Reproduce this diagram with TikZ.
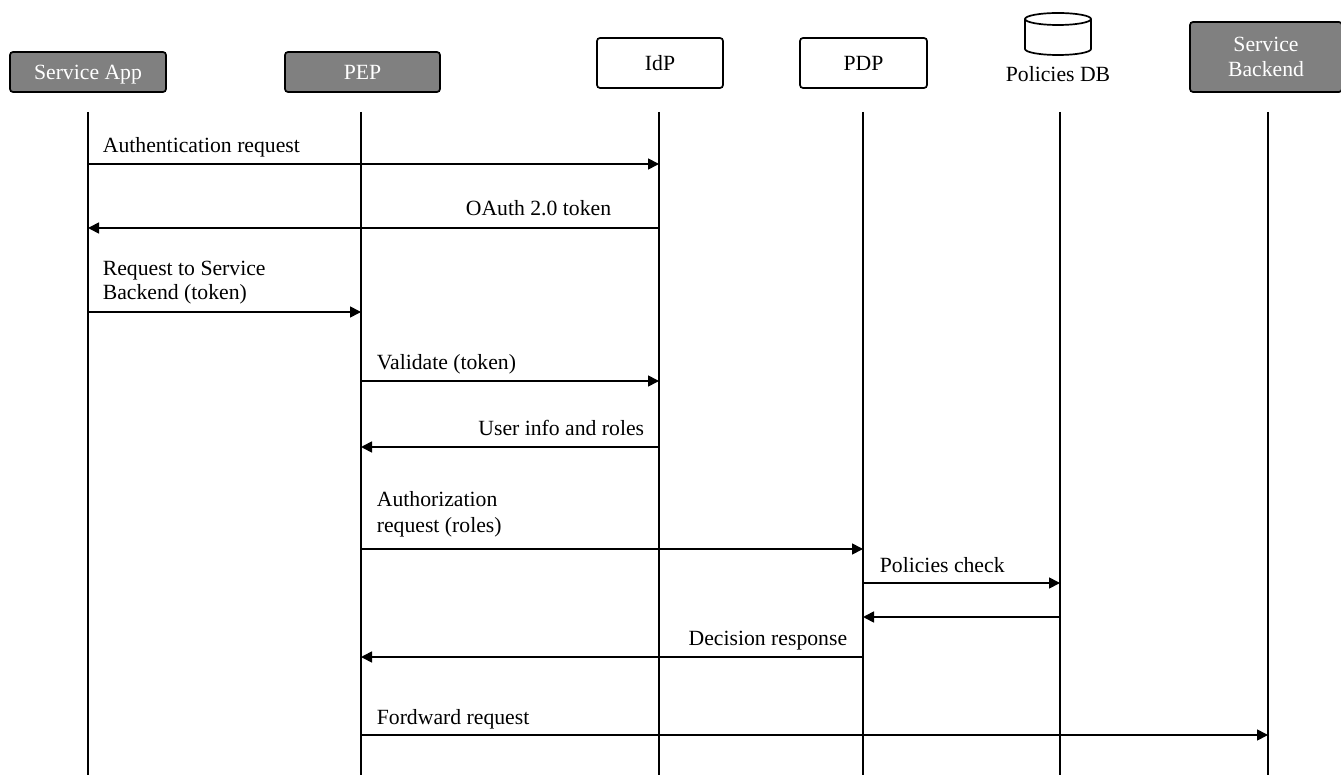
\documentclass[tikz,border=0pt]{standalone}
\usepackage{fontspec}
\setmainfont{Liberation Serif}
\usetikzlibrary{arrows.meta}
\definecolor{boxgrey}{HTML}{808080}
\begin{document}
\begin{tikzpicture}[x=1pt,y=-1pt,
  every node/.style={font=\fontsize{21.7}{24}\selectfont, inner sep=0pt},
  actor/.style={draw=black, line width=1.7pt, rounded corners=3pt, fill=boxgrey,
    text=white, align=center},
  plainbox/.style={draw=black, line width=1.7pt, rounded corners=3pt, fill=white},
  lifeline/.style={line width=1.7pt},
  msg/.style={line width=1.7pt, -{Triangle[length=11pt,width=11pt]}},
  lbl/.style={anchor=base west, align=left},
  rlbl/.style={anchor=base east, align=right}]

\useasboundingbox[fill=white] (0,0) rectangle (1341,775);

% participants
\node[actor, minimum width=156pt, minimum height=40pt, text depth=0pt] (sa) at (88,72) {Service App};
\node[actor, minimum width=155pt, minimum height=40pt] (pep) at (362.5,72) {PEP};
\node[plainbox, minimum width=126pt, minimum height=50pt] (idp) at (660,63) {IdP};
\node[plainbox, minimum width=127pt, minimum height=50pt] (pdp) at (863.5,63) {PDP};
\node[actor, minimum width=152pt, minimum height=70pt,
  font=\fontsize{21.7}{25}\selectfont] (sb) at (1266,57) {Service\\Backend};

% database cylinder
\draw[line width=1.7pt, fill=white] (1025,19) -- (1025,49)
  arc[start angle=180, end angle=0, x radius=33, y radius=6] -- (1091,19);
\draw[line width=1.7pt, fill=white] (1058,19) ellipse [x radius=33, y radius=6];
\node[anchor=base] (db) at (1058,82) {Policies DB};

% lifeline tops and bottom
\coordinate (sa-l) at (88,112);
\coordinate (pep-l) at (361,112);
\coordinate (idp-l) at (659,112);
\coordinate (pdp-l) at (863,112);
\coordinate (db-l) at (1060,112);
\coordinate (sb-l) at (1268,112);
\coordinate (bot) at (0,775);

\foreach \p in {sa-l,pep-l,idp-l,pdp-l,db-l,sb-l}
  \draw[lifeline] (\p) -- (\p |- bot);

% message rows
\coordinate (r1) at (0,164);
\coordinate (r2) at (0,228);
\coordinate (r3) at (0,312);
\coordinate (r4) at (0,381);
\coordinate (r5) at (0,447);
\coordinate (r6) at (0,549);
\coordinate (r7) at (0,583);
\coordinate (r8) at (0,617);
\coordinate (r9) at (0,657);
\coordinate (r10) at (0,735);

\draw[msg] (sa-l |- r1) -- (idp-l |- r1)
  node[pos=0, lbl, xshift=14pt, yshift=11pt] {Authentication request};
\draw[msg] (idp-l |- r2) -- (sa-l |- r2)
  node[pos=0, rlbl, xshift=-47pt, yshift=12pt] {OAuth 2.0 token};
\draw[msg] (sa-l |- r3) -- (pep-l |- r3)
  node[pos=0, lbl, xshift=14pt, yshift=12pt] {Request to Service\\Backend (token)};
\draw[msg] (pep-l |- r4) -- (idp-l |- r4)
  node[pos=0, lbl, xshift=15pt, yshift=11pt] {Validate (token)};
\draw[msg] (idp-l |- r5) -- (pep-l |- r5)
  node[pos=0, rlbl, xshift=-14pt, yshift=12pt] {User info and roles};
\draw[msg] (pep-l |- r6) -- (pdp-l |- r6)
  node[pos=0, lbl, xshift=15pt, yshift=17pt,
    font=\fontsize{21.7}{25.5}\selectfont] {Authorization\\request (roles)};
\draw[msg] (pdp-l |- r7) -- (db-l |- r7)
  node[pos=0, lbl, xshift=16pt, yshift=11pt] {Policies check};
\draw[msg] (db-l |- r8) -- (pdp-l |- r8);
\draw[msg] (pdp-l |- r9) -- (pep-l |- r9)
  node[pos=0, rlbl, xshift=-15pt, yshift=12pt] {Decision response};
\draw[msg] (pep-l |- r10) -- (sb-l |- r10)
  node[pos=0, lbl, xshift=15pt, yshift=11pt] {Fordward request};
\end{tikzpicture}
\end{document}
